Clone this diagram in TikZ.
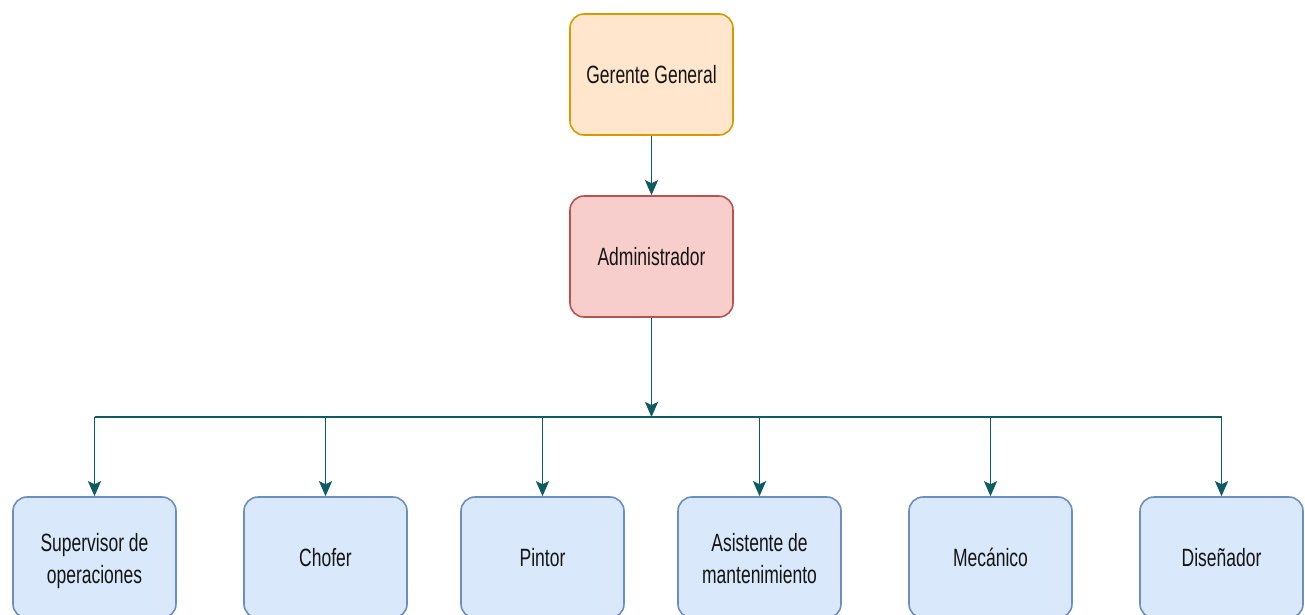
\documentclass[tikz,border=0pt]{standalone}
\usepackage{fontspec}
\setmainfont{Liberation Sans}[FakeStretch=0.7]
\usetikzlibrary{arrows.meta}
\definecolor{orgfill}{HTML}{FFE6CC}
\definecolor{orgline}{HTML}{D79B00}
\definecolor{redfill}{HTML}{F8CECC}
\definecolor{redline}{HTML}{B85450}
\definecolor{bluefill}{HTML}{DAE8FC}
\definecolor{blueline}{HTML}{6C8EBF}
\definecolor{wire}{HTML}{0F5B61}
\definecolor{txt}{HTML}{141414}
% two centred lines, drawn a little below the box centre
\newcommand{\twolines}[2]{\raisebox{-4pt}[\height][\depth]{\begin{tabular}{@{}c@{}}#1\\#2\end{tabular}}}
\tikzset{
  role/.style={rectangle, rounded corners=14pt, line width=1.6pt,
    minimum width=163pt, minimum height=121pt, inner sep=0pt,
    align=center, text=txt, font=\fontsize{25}{32}\selectfont},
  boss/.style={role, fill=orgfill, draw=orgline},
  admin/.style={role, fill=redfill, draw=redline},
  staff/.style={role, fill=bluefill, draw=blueline},
  link/.style={draw=wire, line width=1.8pt},
  arr/.style={link, -{Stealth[length=15pt,width=13pt,inset=3pt]}}
}
\begin{document}
\begin{tikzpicture}[x=1pt,y=-1pt]
  \useasboundingbox (0,0) rectangle (1305,614);
  \clip (0,0) rectangle (1305,614);
  \fill[white] (0,0) rectangle (1305,614);

  % management
  \node[boss]  (gg)  at (651.5,74.5)  {Gerente General};
  \node[admin] (adm) at (651.5,256.5) {Administrador};

  % staff
  \node[staff] (s1) at (94.5,557.5)   {\twolines{Supervisor de}{operaciones}};
  \node[staff] (s2) at (325.5,557.5)  {Chofer};
  \node[staff] (s3) at (542.5,557.5)  {Pintor};
  \node[staff] (s4) at (759.5,557.5)  {\twolines{Asistente de}{mantenimiento}};
  \node[staff] (s5) at (990.5,557.5)  {Mecánico};
  \node[staff] (s6) at (1221.5,557.5) {Diseñador};

  % distribution bus
  \coordinate (bus) at (651.5,417);
  \foreach \i in {1,...,6} { \coordinate (b\i) at (s\i |- bus); }

  \draw[arr] (gg) -- (adm);
  \draw[arr] (adm) -- (bus);
  \draw[link] (b1) -- (b6);
  \foreach \i in {1,...,6} { \draw[arr] (b\i) -- (s\i); }
\end{tikzpicture}
\end{document}
